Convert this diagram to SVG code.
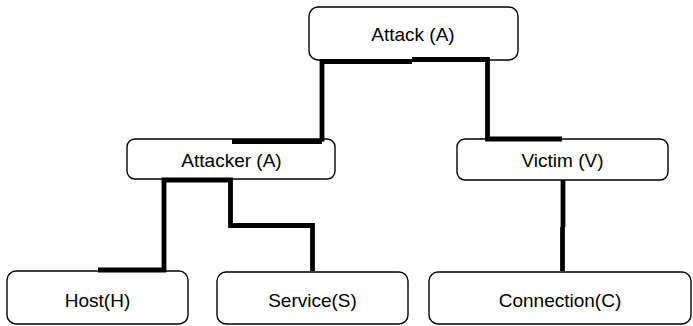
<svg xmlns="http://www.w3.org/2000/svg" width="693" height="326" viewBox="0 0 693 326">
<style>
.box{fill:#fff;stroke:#000;stroke-width:1.4}
.lbl{font-family:"Liberation Sans",Arial,sans-serif;font-size:19px;fill:#000;text-anchor:middle}
.con{fill:none;stroke:#000;stroke-width:4.8;stroke-linecap:butt;stroke-linejoin:miter}
</style>
<rect width="693" height="326" fill="#fff"/>
<g id="attack">
<rect class="box" x="309" y="7" width="209" height="53" rx="9"/>
<text class="lbl" x="413" y="40.5">Attack (A)</text>
</g>
<g id="attacker">
<rect class="box" x="127" y="139" width="208" height="40" rx="8"/>
<text class="lbl" x="231.5" y="166.5">Attacker (A)</text>
</g>
<g id="victim">
<rect class="box" x="457" y="139" width="211" height="41" rx="8"/>
<text class="lbl" x="562.5" y="167">Victim (V)</text>
</g>
<g id="host">
<rect class="box" x="7" y="271" width="181" height="53" rx="9"/>
<text class="lbl" x="97.5" y="306.5">Host(H)</text>
</g>
<g id="service">
<rect class="box" x="217" y="272" width="191" height="52" rx="9"/>
<text class="lbl" x="312.5" y="306.5">Service(S)</text>
</g>
<g id="connection">
<rect class="box" x="429" y="272" width="262" height="52" rx="9"/>
<text class="lbl" x="560" y="306.5">Connection(C)</text>
</g>
<g id="connectors">
<path class="con" d="M322 141.5V61.5H412"/>
<path class="con" d="M232 141.5H322"/>
<path class="con" d="M412 59.5H487.5V139H562"/>
<path class="con" d="M98 270H164V180H230.5V225.5H312.5V271"/>
<path class="con" d="M563 180V227"/>
<path class="con" d="M562.5 227V271"/>
</g>
</svg>
